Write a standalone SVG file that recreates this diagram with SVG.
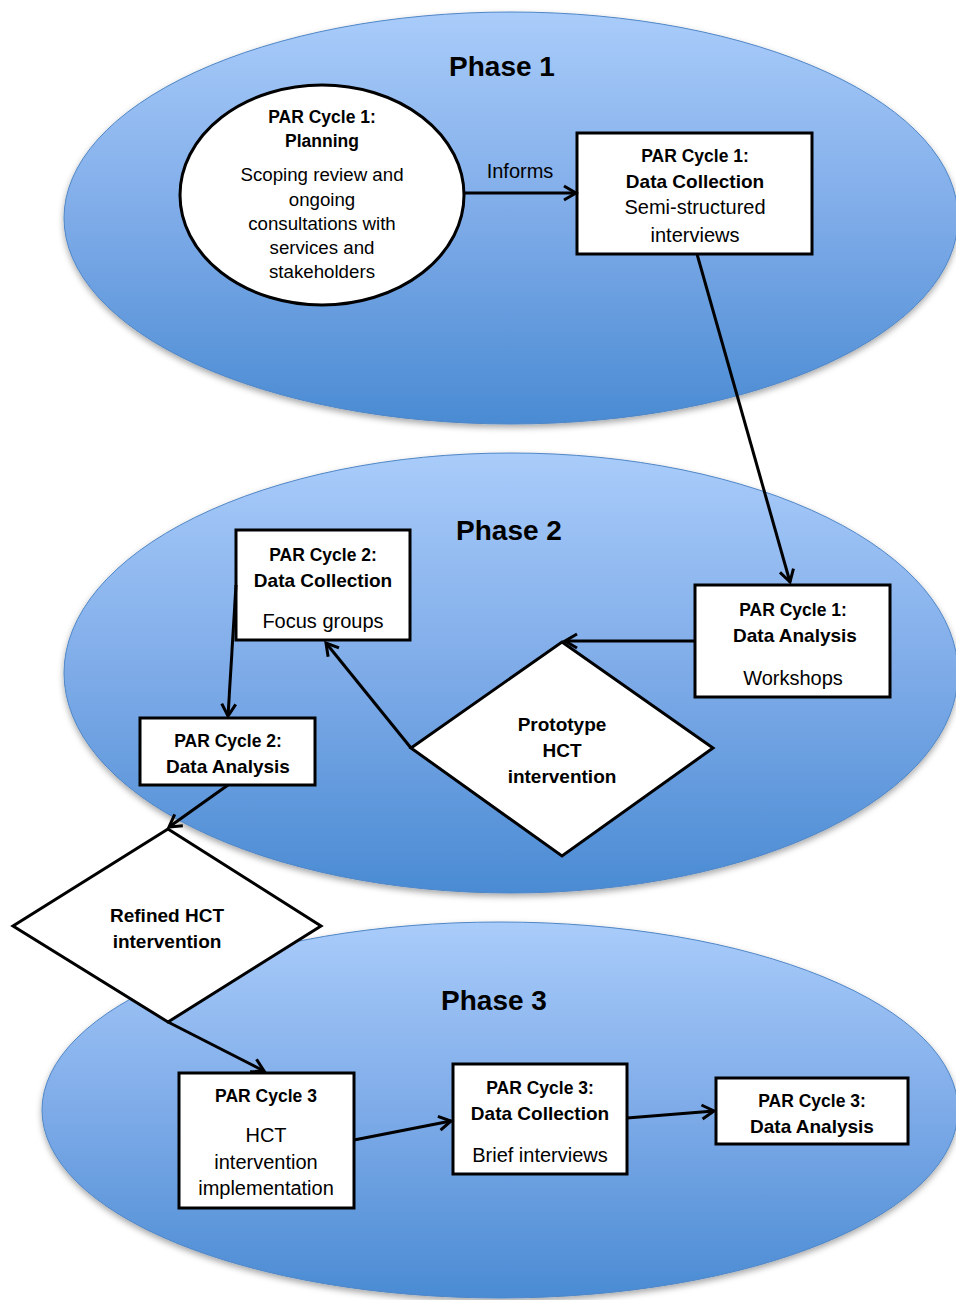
<svg xmlns="http://www.w3.org/2000/svg" width="956" height="1300" viewBox="0 0 956 1300">
<style>
text{font-family:"Liberation Sans",Arial,sans-serif;fill:#000;text-anchor:middle}
.ph{font-size:28px;font-weight:bold}
.h{font-size:17.5px;font-weight:bold}
.b{font-size:19px;font-weight:bold}
.r{font-size:20px}
.s{font-size:18.7px}
.node{fill:#fff;stroke:#000;stroke-width:3}
.phase{fill:url(#g);stroke:#4f86c6;stroke-width:1;filter:url(#sh)}
.conn line{stroke:#000;stroke-width:3;fill:none}
</style>
<defs>
<linearGradient id="g" x1="0" y1="0" x2="0" y2="1">
<stop offset="0" stop-color="#a9ccfa"/>
<stop offset="0.5" stop-color="#7eabe8"/>
<stop offset="1" stop-color="#4a8bd3"/>
</linearGradient>
<filter id="sh" x="-10%" y="-10%" width="120%" height="125%">
<feDropShadow dx="0" dy="3" stdDeviation="3" flood-color="#000" flood-opacity="0.35"/>
</filter>
<marker id="a" markerUnits="userSpaceOnUse" markerWidth="18" markerHeight="18" refX="15" refY="9" orient="auto">
<path d="M3,2 L15,9 L3,16" fill="none" stroke="#000" stroke-width="3"/>
</marker>
</defs>
<rect width="956" height="1300" fill="#fff"/>
<g id="phases">
<ellipse id="phase1" class="phase" cx="511" cy="218" rx="447" ry="206"/>
<ellipse id="phase2" class="phase" cx="511" cy="673" rx="447" ry="220"/>
<ellipse id="phase3" class="phase" cx="500" cy="1110" rx="458" ry="188"/>
<text class="ph" x="502" y="76">Phase 1</text>
<text class="ph" x="509" y="540">Phase 2</text>
<text class="ph" x="494" y="1010">Phase 3</text>
</g>
<g id="n-planning">
<ellipse class="node" cx="322" cy="195" rx="142" ry="110"/>
<text class="h" x="322" y="123">PAR Cycle 1:</text>
<text class="h" x="322" y="147">Planning</text>
<text class="s" x="322" y="181">Scoping review and</text>
<text class="s" x="322" y="206">ongoing</text>
<text class="s" x="322" y="230">consultations with</text>
<text class="s" x="322" y="254">services and</text>
<text class="s" x="322" y="278">stakeholders</text>
</g>
<g id="n-p1-collection">
<rect class="node" x="577" y="133" width="235" height="121"/>
<text class="h" x="695" y="162">PAR Cycle 1:</text>
<text class="b" x="695" y="188">Data Collection</text>
<text class="r" x="695" y="214">Semi-structured</text>
<text class="r" x="695" y="242">interviews</text>
</g>
<g id="n-p1-analysis">
<rect class="node" x="695" y="585" width="195" height="112"/>
<text class="h" x="793" y="616">PAR Cycle 1:</text>
<text class="b" x="795" y="642">Data Analysis</text>
<text class="r" x="793" y="685">Workshops</text>
</g>
<g id="n-p2-collection">
<rect class="node" x="236" y="530" width="174" height="110"/>
<text class="h" x="323" y="561">PAR Cycle 2:</text>
<text class="b" x="323" y="587">Data Collection</text>
<text class="r" x="323" y="628">Focus groups</text>
</g>
<g id="n-p2-analysis">
<rect class="node" x="140" y="718" width="175" height="67"/>
<text class="h" x="228" y="747">PAR Cycle 2:</text>
<text class="b" x="228" y="773">Data Analysis</text>
</g>
<g id="n-prototype">
<polygon class="node" points="562,642 713,748 562,856 411,748"/>
<text class="b" x="562" y="731">Prototype</text>
<text class="b" x="562" y="757">HCT</text>
<text class="b" x="562" y="783">intervention</text>
</g>
<g id="n-refined">
<polygon class="node" points="168,829 321,926 168,1022 13,926"/>
<text class="b" x="167" y="922">Refined HCT</text>
<text class="b" x="167" y="948">intervention</text>
</g>
<g id="n-p3-impl">
<rect class="node" x="179" y="1073" width="175" height="135"/>
<text class="h" x="266" y="1102">PAR Cycle 3</text>
<text class="r" x="266" y="1142">HCT</text>
<text class="r" x="266" y="1169">intervention</text>
<text class="r" x="266" y="1195">implementation</text>
</g>
<g id="n-p3-collection">
<rect class="node" x="453" y="1064" width="174" height="110"/>
<text class="h" x="540" y="1094">PAR Cycle 3:</text>
<text class="b" x="540" y="1120">Data Collection</text>
<text class="r" x="540" y="1162">Brief interviews</text>
</g>
<g id="n-p3-analysis">
<rect class="node" x="716" y="1078" width="192" height="66"/>
<text class="h" x="812" y="1107">PAR Cycle 3:</text>
<text class="b" x="812" y="1133">Data Analysis</text>
</g>
<g id="connectors" class="conn">
<line x1="464" y1="193" x2="576" y2="193" marker-end="url(#a)"/>
<text class="r" x="520" y="178">Informs</text>
<line x1="697" y1="254" x2="790" y2="582" marker-end="url(#a)"/>
<line x1="695" y1="641" x2="565" y2="641" marker-end="url(#a)"/>
<line x1="411" y1="748" x2="326" y2="643" marker-end="url(#a)"/>
<line x1="236" y1="585" x2="228" y2="716" marker-end="url(#a)"/>
<line x1="228" y1="785" x2="169" y2="827" marker-end="url(#a)"/>
<line x1="168" y1="1022" x2="264" y2="1071" marker-end="url(#a)"/>
<line x1="354" y1="1140" x2="451" y2="1121" marker-end="url(#a)"/>
<line x1="627" y1="1118" x2="714" y2="1111" marker-end="url(#a)"/>
</g>
</svg>
